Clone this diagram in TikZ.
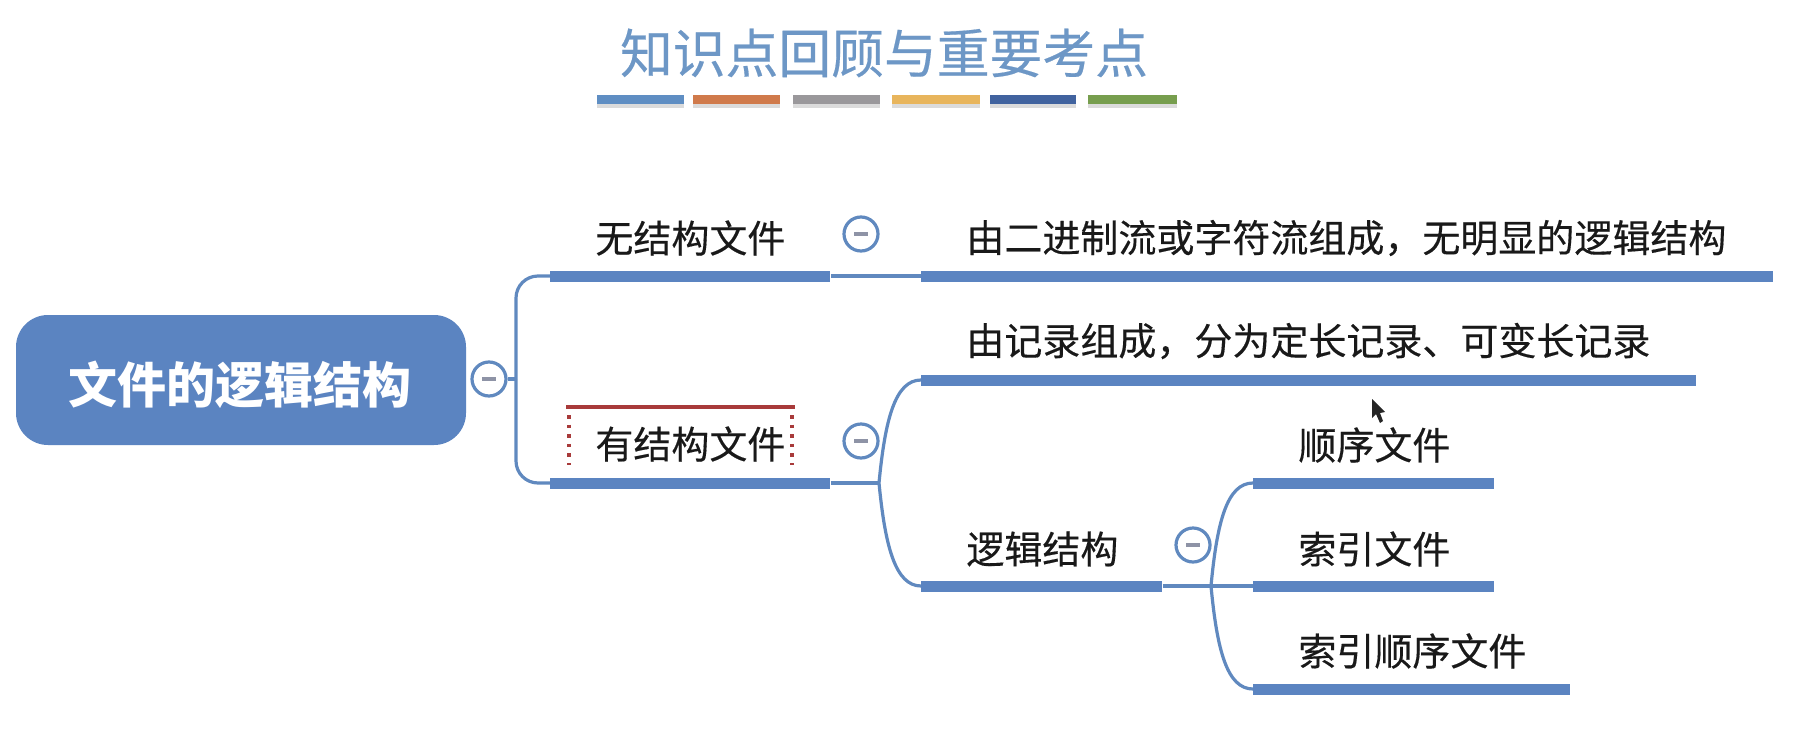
\documentclass[tikz,border=0pt]{standalone}
\usepackage{fontspec}
\setmainfont{Noto Sans CJK SC}
\newfontfamily\labelfont[FakeBold=0.35]{Noto Sans CJK SC}
\usetikzlibrary{calc}
\definecolor{mapblue}{HTML}{5B84C1}
\definecolor{linkblue}{HTML}{6089BF}
\definecolor{titleblue}{HTML}{6D97C6}
\definecolor{darkred}{HTML}{A83A3A}
\definecolor{minusgrey}{HTML}{8E93A6}
\tikzset{
  x=0.5pt,y=-0.5pt,
  rootbox/.style={draw=none,fill=mapblue,rounded corners=16pt,minimum width=225pt,minimum height=65pt,inner sep=0pt},
  barnode/.style={fill=mapblue,draw=none,inner sep=0pt,minimum height=5.5pt,anchor=west},
  label/.style={inner sep=0pt,text=black!90,font=\labelfont\fontsize{19pt}{23pt}\selectfont,anchor=west},
  foldc/.style={circle,draw=linkblue,line width=1.6pt,fill=white,minimum size=17pt,inner sep=0pt,
    path picture={\draw[minusgrey,line width=1.6pt] ($(path picture bounding box.center)+(-7,0)$) -- ($(path picture bounding box.center)+(7,0)$);}},
  thinlink/.style={draw=linkblue,line width=1.6pt},
  swatch/.style={draw=none,inner sep=0pt,minimum height=4.5pt,anchor=west},
  swshadow/.style={fill=black,opacity=0.14,draw=none,inner sep=0pt,minimum height=4.5pt,anchor=west},
}
\begin{document}
\begin{tikzpicture}
\useasboundingbox (0,0) rectangle (1797,744);
\fill[white] (0,0) rectangle (1797,744);

% title
\node[inner sep=0pt,text=titleblue,font=\labelfont\fontsize{26.4pt}{30pt}\selectfont] (title) at (884,53) {知识点回顾与重要考点};
\foreach \n/\xa/\w/\c in {a/597/43.5/5F8EC3,b/693/43.5/D07A4B,c/793/43.5/9A989B,d/892/44/E8B55C,e/990/43/41639F,f/1088/44.5/779E4E}{
  \definecolor{swc}{HTML}{\c}
  \node[swshadow,minimum width=\w pt] (sh\n) at (\xa,103) {};
  \node[swatch,fill=swc,minimum width=\w pt] (sw\n) at (\xa,99.5) {};
}

% root
\node[rootbox] (root) at (241,380) {};
\node[inner sep=0pt,text=white,font=\fontsize{24.5pt}{28pt}\selectfont\bfseries] (roottext) at (240,385) {文件的逻辑结构};
\node[foldc] (c0) at (489,379) {};

% level 1
\node[barnode,minimum width=140pt] (b1) at (550,276) {};
\node[barnode,minimum width=140pt] (b2) at (550,483) {};
\node[label] (t1) at (595,238) {无结构文件};
\node[label] (t2) at (595,444) {有结构文件};
\node[foldc] (c1) at (861,234) {};
\node[foldc] (c2) at (861,441) {};

% selection marker
\coordinate (ra) at (566,407);
\coordinate (rb) at (795,407);
\draw[darkred,line width=1.8pt] (ra) -- (rb);
\draw[darkred,line width=1.6pt,dash pattern=on 1.8pt off 3pt] ($(ra)+(3,8)$) -- ($(ra)+(3,58)$);
\draw[darkred,line width=1.6pt,dash pattern=on 1.8pt off 3pt] ($(rb)+(-3,8)$) -- ($(rb)+(-3,58)$);

% level 2
\node[barnode,minimum width=426pt] (b11) at (921,276) {};
\node[label] (t11) at (966,238) {由二进制流或字符流组成\char"FF0C 无明显的逻辑结构};
\node[barnode,minimum width=387.5pt] (b21) at (921,380) {};
\node[label] (t21) at (966,341) {由记录组成\char"FF0C 分为定长记录、可变长记录};
\node[barnode,minimum width=120.5pt] (b22) at (921,586) {};
\node[label] (t22) at (966,549) {逻辑结构};
\node[foldc] (c3) at (1193,545) {};

% level 3
\node[barnode,minimum width=120.5pt] (b31) at (1253,483) {};
\node[label] (t31) at (1298,445) {顺序文件};
\node[barnode,minimum width=120.5pt] (b32) at (1253,586) {};
\node[label] (t32) at (1298,549) {索引文件};
\node[barnode,minimum width=158.5pt] (b33) at (1253,689) {};
\node[label] (t33) at (1298,651) {索引顺序文件};

% connectors
\coordinate (j0) at (516,379);
\coordinate (j1) at (879,483);
\coordinate (j2) at (1211,586);
\draw[thinlink] (c0) -- (j0);
\draw[thinlink,rounded corners=11pt] (j0) |- (b1.west);
\draw[thinlink,rounded corners=11pt] (j0) |- (b2.west);
\draw[thinlink] (b1.east) -- (b11.west);
\draw[thinlink] (b2.east) -- (j1);
\draw[thinlink] (j1) .. controls (885,420) and (895,380) .. (b21.west);
\draw[thinlink] (j1) .. controls (885,545) and (895,586) .. (b22.west);
\draw[thinlink] (b22.east) -- (b32.west);
\draw[thinlink] (j2) .. controls (1217,522) and (1227,483) .. (b31.west);
\draw[thinlink] (j2) .. controls (1217,650) and (1227,689) .. (b33.west);

% pointer
\fill[black!85] (1372,399) -- (1372,418) -- (1376,414) -- (1380,423) -- (1383,421) -- (1380,413) -- (1385,412) -- cycle;
\end{tikzpicture}
\end{document}
